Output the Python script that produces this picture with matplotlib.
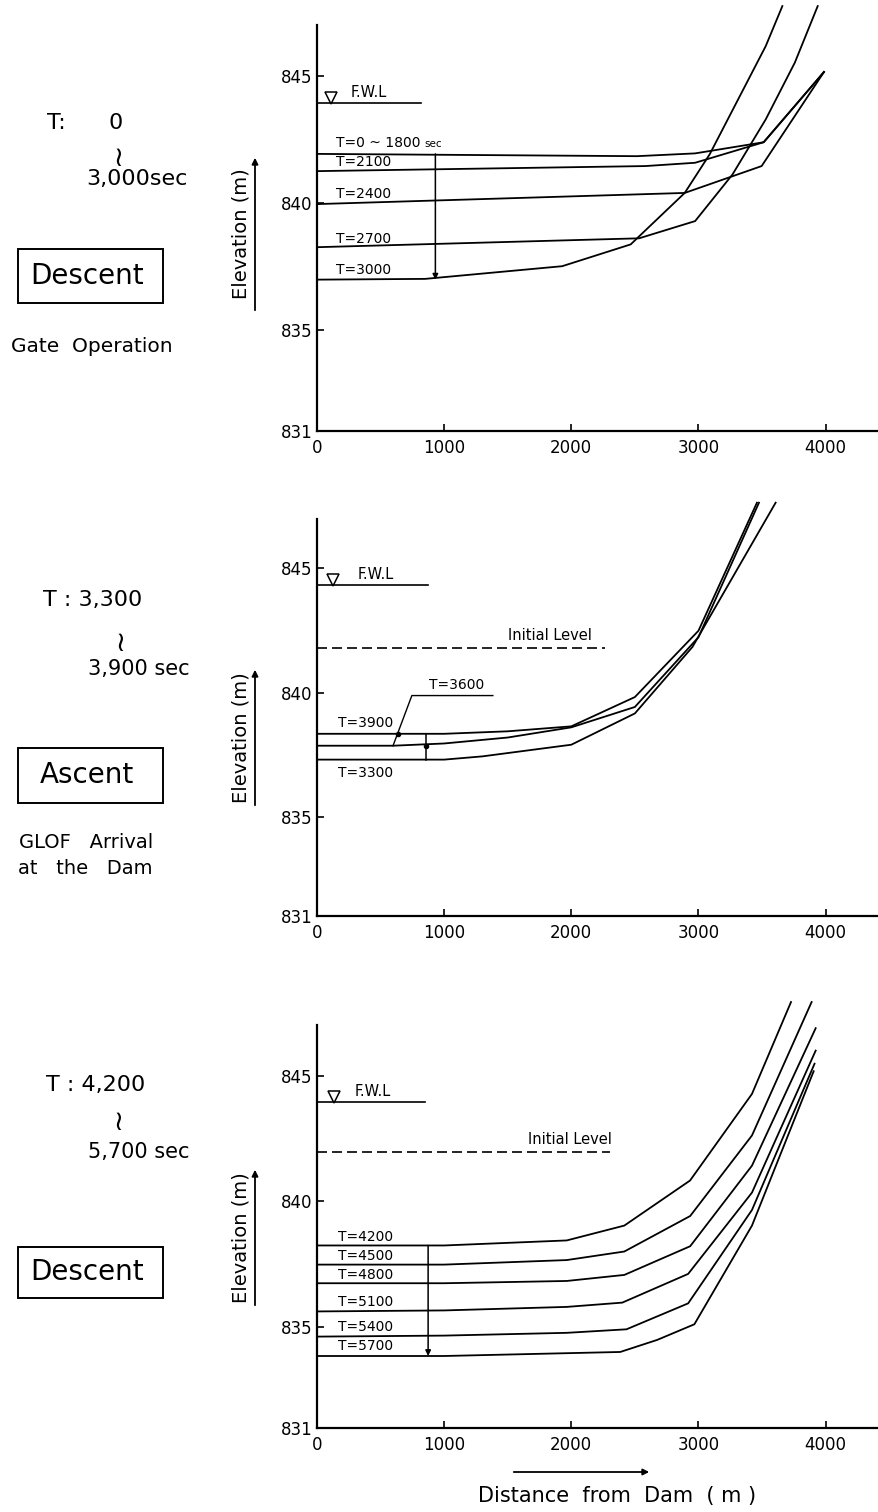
import matplotlib
matplotlib.use("Agg")
import matplotlib.pyplot as plt
from matplotlib.patches import Rectangle, FancyArrowPatch

W, H = 879, 1512

# --- panel 1: T 0 - 3000 sec, gate operation (descent) ---
p1_names = ["T=0 ~ 1800", "T=2100", "T=2400", "T=2700", "T=3000"]
p1_x = [
    [0, 2516, 2974, 3513, 3987],
    [0, 2582, 2974, 3513, 3987],
    [0, 2892, 3497, 3987],
    [0, 2533, 2974, 3268, 3529, 3758, 3938],
    [0, 850, 1928, 2467, 2892, 3088, 3529, 3660],
]
p1_y = [
    [841.93, 841.84, 841.95, 842.39, 845.16],
    [841.25, 841.45, 841.58, 842.39, 845.16],
    [839.95, 840.39, 841.45, 845.16],
    [838.25, 838.6, 839.28, 841.12, 843.29, 845.53, 847.76],
    [836.97, 837.0, 837.5, 838.36, 840.39, 841.91, 846.18, 847.76],
]
p1_label_y = [842.34, 841.6, 840.36, 838.58, 837.37]
p1_fwl = 843.92

# --- panel 2: T 3300 - 3900 sec, GLOF arrival (ascent) ---
p2_names = ["T=3900", "T=3600", "T=3300"]
p2_x = [
    [0, 1000, 1500, 2000, 2500, 3000, 3460],
    [0, 600, 1000, 1500, 2000, 2500, 3000, 3476],
    [0, 1000, 1300, 2000, 2500, 2953, 3607],
]
p2_y = [
    [838.34, 838.34, 838.44, 838.64, 839.82, 842.49, 847.65],
    [837.86, 837.86, 837.95, 838.19, 838.6, 839.42, 842.23, 847.65],
    [837.3, 837.3, 837.43, 837.9, 839.16, 841.84, 847.65],
]
p2_fwl = 844.32
p2_initial = 841.81

# --- panel 3: T 4200 - 5700 sec (descent) ---
p3_names = ["T=4200", "T=4500", "T=4800", "T=5100", "T=5400", "T=5700"]
p3_x = [
    [0, 1000, 1964, 2417, 2934, 3421, 3728],
    [0, 1000, 1964, 2417, 2935, 3421, 3890],
    [0, 1000, 1964, 2417, 2935, 3421, 3922],
    [0, 1000, 1964, 2401, 2919, 3421, 3922],
    [0, 1000, 1964, 2434, 2919, 3421, 3913],
    [0, 1000, 2385, 2676, 2968, 3421, 3906],
]
p3_y = [
    [838.25, 838.25, 838.45, 839.04, 840.83, 844.27, 847.92],
    [837.49, 837.49, 837.67, 838.01, 839.42, 842.62, 847.92],
    [836.75, 836.75, 836.84, 837.08, 838.22, 841.42, 846.88],
    [835.63, 835.67, 835.81, 835.98, 837.12, 840.35, 845.99],
    [834.63, 834.67, 834.78, 834.92, 835.95, 839.66, 845.47],
    [833.86, 833.86, 834.02, 834.50, 835.12, 839.04, 845.17],
]
p3_label_y = [838.59, 837.85, 837.09, 836.02, 835.01, 834.26]
p3_fwl = 843.95
p3_initial = 841.96

y_ticks = [831, 835, 840, 845]
x_ticks = [0, 1000, 2000, 3000, 4000]

plt.rcParams["font.family"] = ["DejaVu Sans"]

fig = plt.figure(figsize=(W / 100, H / 100), dpi=100)


def fx(x):
    return x / W


def fy(y):
    return 1 - y / H


def make_axes(top_px, bottom_px):
    ax = fig.add_axes([fx(317), fy(bottom_px), fx(879) - fx(317), (bottom_px - top_px) / H])
    ax.set_xlim(0, 4420)
    ax.set_ylim(831, 848)
    ax.patch.set_visible(False)
    for s in ["top", "right"]:
        ax.spines[s].set_visible(False)
    for s in ["left", "bottom"]:
        ax.spines[s].set_linewidth(1.6)
    ax.spines["left"].set_bounds(831, 847)
    ax.set_yticks(y_ticks)
    ax.set_xticks(x_ticks)
    ax.tick_params(direction="in", length=5, width=1.2, labelsize=12)
    ax.tick_params(axis="x", pad=6)
    ax.tick_params(axis="y", pad=3)
    return ax


def fwl_mark(ax, level, x_end, x_tri, x_txt):
    ax.plot([0, x_end], [level, level], color="k", lw=1.2)
    ax.plot(x_tri, level + 0.2, marker="v", ms=8, mfc="white", mec="k", mew=1.1)
    ax.text(x_txt, level + 0.12, "F.W.L", fontsize=10.5, va="bottom", ha="left")


def initial_level(ax, level, x_end, x_txt):
    ax.plot([0, x_end], [level, level], color="k", lw=1.2, ls=(0, (6, 3)))
    ax.text(x_txt, level + 0.2, "Initial Level", fontsize=10.5, va="bottom", ha="center")


def side_text(ylab_c, arrow_top, arrow_bot):
    fig.text(fx(241), fy(ylab_c), "Elevation (m)", rotation=90, fontsize=14,
             ha="center", va="center")
    fig.add_artist(FancyArrowPatch((fx(255), fy(arrow_bot)), (fx(255), fy(arrow_top)),
                                   transform=fig.transFigure, arrowstyle="-|>",
                                   mutation_scale=9, lw=1.3, color="k"))


def phase_box(y_top, y_bot, label):
    fig.add_artist(Rectangle((fx(18), fy(y_bot)), fx(163) - fx(18), (y_bot - y_top) / H,
                             transform=fig.transFigure, fill=False, lw=1.4, ec="k"))
    fig.text(fx(87), fy((y_top + y_bot) / 2), label, fontsize=20, ha="center", va="center")


def down_arrow(ax, x, y0, y1):
    ax.annotate("", xy=(x, y1), xytext=(x, y0),
                arrowprops=dict(arrowstyle="-|>", mutation_scale=8, lw=1.1, color="k",
                                shrinkA=0, shrinkB=0))


def wave(x, y):
    fig.text(fx(x), fy(y), "~", fontsize=20, ha="center", va="center", rotation=90)


# ---------- panel 1 ----------
ax1 = make_axes(0, 431)
for xs, ys in zip(p1_x, p1_y):
    ax1.plot(xs, ys, color="k", lw=1.3)
fwl_mark(ax1, p1_fwl, 817, 114, 261)
t0 = ax1.text(150, p1_label_y[0], p1_names[0], fontsize=10, va="center", ha="left")
ax1.annotate("sec", xy=(1, 0.1), xycoords=t0, xytext=(3, 0), textcoords="offset points",
             fontsize=7.5, va="bottom", ha="left")
for name, ly in zip(p1_names[1:], p1_label_y[1:]):
    ax1.text(150, ly, name, fontsize=10, va="center", ha="left")
down_arrow(ax1, 931, p1_y[0][0], p1_y[4][0])

fig.text(fx(47), fy(123), "T:", fontsize=16, ha="left", va="center")
fig.text(fx(116), fy(123), "0", fontsize=16, ha="center", va="center")
wave(118, 153)
fig.text(fx(86), fy(179), "3,000sec", fontsize=16, ha="left", va="center")
phase_box(249, 303, "Descent")
fig.text(fx(92), fy(346), "Gate  Operation", fontsize=14.5, ha="center", va="center")
side_text(234, 155, 313)

# ---------- panel 2 ----------
ax2 = make_axes(494, 916)
for xs, ys in zip(p2_x, p2_y):
    ax2.plot(xs, ys, color="k", lw=1.3)
fwl_mark(ax2, p2_fwl, 876, 124, 320)
initial_level(ax2, p2_initial, 2266, 1831)
ax2.text(379, 838.77, p2_names[0], fontsize=10, ha="center", va="center")
ax2.text(379, 836.75, p2_names[2], fontsize=10, ha="center", va="center")
ax2.text(1099, 840.3, p2_names[1], fontsize=10, ha="center", va="center")
ax2.plot([598, 746, 1383], [837.86, 839.88, 839.88], color="k", lw=1.0)
ax2.plot(640, 838.34, marker="o", ms=3, color="k")
ax2.plot([860, 860], [p2_y[0][0], p2_y[2][0]], color="k", lw=1.1)
ax2.plot(860, p2_y[1][0], marker="o", ms=3, color="k")

fig.text(fx(43), fy(600), "T : 3,300", fontsize=16, ha="left", va="center")
wave(120, 638)
fig.text(fx(88), fy(669), "3,900 sec", fontsize=15, ha="left", va="center")
phase_box(748, 803, "Ascent")
fig.text(fx(86), fy(842), "GLOF   Arrival", fontsize=14, ha="center", va="center")
fig.text(fx(85), fy(868), "at   the   Dam", fontsize=14, ha="center", va="center")
side_text(738, 667, 808)

# ---------- panel 3 ----------
ax3 = make_axes(1000, 1428)
for xs, ys in zip(p3_x, p3_y):
    ax3.plot(xs, ys, color="k", lw=1.3)
fwl_mark(ax3, p3_fwl, 848, 136, 298)
initial_level(ax3, p3_initial, 2304, 1990)
for name, ly in zip(p3_names, p3_label_y):
    ax3.text(168, ly, name, fontsize=10, va="center", ha="left")
down_arrow(ax3, 874, p3_y[0][0], p3_y[5][0])

fig.text(fx(46), fy(1085), "T : 4,200", fontsize=16, ha="left", va="center")
wave(118, 1117)
fig.text(fx(88), fy(1152), "5,700 sec", fontsize=15, ha="left", va="center")
phase_box(1247, 1298, "Descent")
side_text(1238, 1167, 1308)

fig.add_artist(FancyArrowPatch((fx(511), fy(1472)), (fx(652), fy(1472)),
                               transform=fig.transFigure, arrowstyle="-|>",
                               mutation_scale=9, lw=1.3, color="k"))
fig.text(fx(617), fy(1496), "Distance  from  Dam  ( m )", fontsize=15,
         ha="center", va="center")

fig.savefig("out.png", dpi=100)
